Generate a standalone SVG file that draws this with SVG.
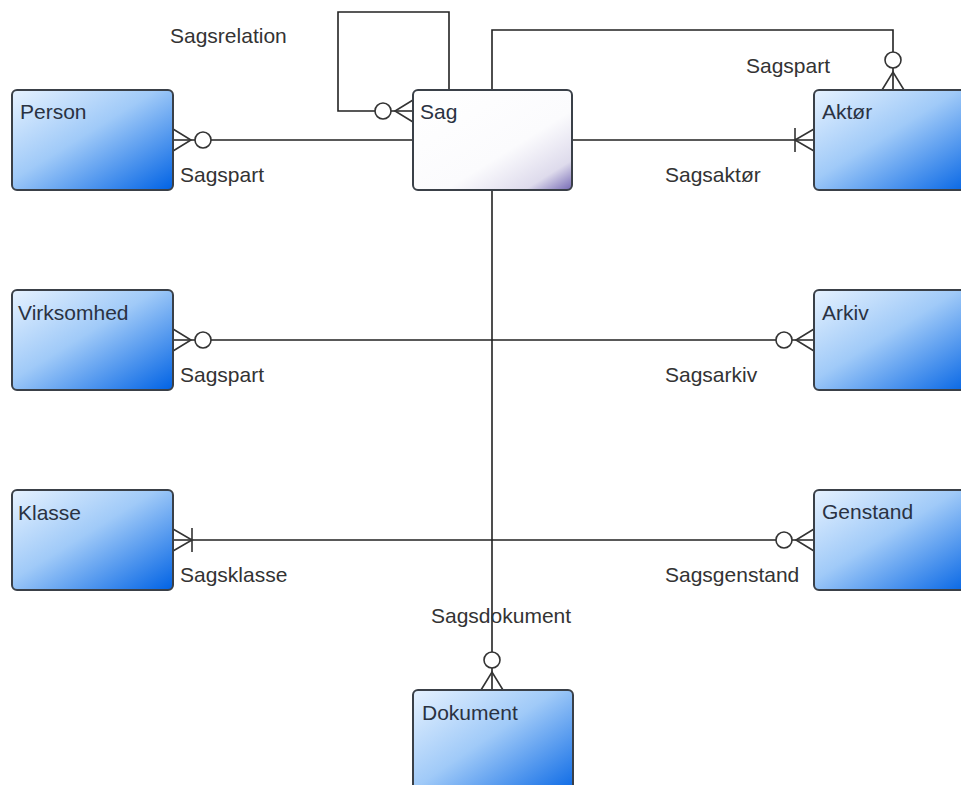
<svg xmlns="http://www.w3.org/2000/svg" xmlns:xlink="http://www.w3.org/1999/xlink" width="961" height="785" viewBox="0 0 961 785">
<style>
.ent{stroke:#3a4048;stroke-width:2}
.lbl{font-family:"Liberation Sans",Arial,sans-serif;font-size:21px;fill:#333}
.nm{font-family:"Liberation Sans",Arial,sans-serif;font-size:21px;fill:#2a3242}
.ln{fill:none;stroke:#222;stroke-width:1.6}
.nt{fill:none;stroke:#333;stroke-width:1.6}
.cir{fill:#fff;stroke:#333;stroke-width:1.6}
</style>
<defs>
<linearGradient id="blue" x1="0" y1="0" x2="1" y2="1">
<stop offset="0" stop-color="#e6f2ff"/>
<stop offset="0.45" stop-color="#a0caf8"/>
<stop offset="1" stop-color="#0062e4"/>
</linearGradient>
<linearGradient id="white" x1="0" y1="0" x2="1" y2="1">
<stop offset="0" stop-color="#ffffff"/>
<stop offset="0.6" stop-color="#fbfbfd"/>
<stop offset="0.85" stop-color="#dedbec"/>
<stop offset="1" stop-color="#7468b4"/>
</linearGradient>
<g id="zeroMany">
<path class="nt" d="M0,-11 L18,0 L0,11"/>
<circle class="cir" cx="30" cy="0" r="8"/>
</g>
<g id="oneMany">
<path class="nt" d="M0,-11 L19,0 L0,11 M19,-12 L19,12"/>
</g>
</defs>

<g id="connectors">
<path class="ln" d="M173,140 L413,140"/>
<path class="ln" d="M449,90 L449,12 L338,12 L338,111 L413,111"/>
<path class="ln" d="M492,90 L492,30 L893,30 L893,90"/>
<path class="ln" d="M572,140 L814,140"/>
<path class="ln" d="M492,190 L492,690"/>
<path class="ln" d="M173,340 L814,340"/>
<path class="ln" d="M173,540 L814,540"/>
<use xlink:href="#zeroMany" transform="translate(173,140)"/>
<use xlink:href="#zeroMany" transform="translate(413,111) scale(-1,1)"/>
<use xlink:href="#zeroMany" transform="translate(893,90) rotate(-90)"/>
<use xlink:href="#oneMany" transform="translate(814,140) scale(-1,1)"/>
<use xlink:href="#zeroMany" transform="translate(492,690) rotate(-90)"/>
<use xlink:href="#zeroMany" transform="translate(173,340)"/>
<use xlink:href="#zeroMany" transform="translate(814,340) scale(-1,1)"/>
<use xlink:href="#oneMany" transform="translate(173,540)"/>
<use xlink:href="#zeroMany" transform="translate(814,540) scale(-1,1)"/>
<text class="lbl" x="170" y="43">Sagsrelation</text>
<text class="lbl" x="180" y="182">Sagspart</text>
<text class="lbl" x="746" y="73">Sagspart</text>
<text class="lbl" x="665" y="182">Sagsaktør</text>
<text class="lbl" x="180" y="382">Sagspart</text>
<text class="lbl" x="665" y="382">Sagsarkiv</text>
<text class="lbl" x="180" y="582">Sagsklasse</text>
<text class="lbl" x="665" y="582">Sagsgenstand</text>
<text class="lbl" x="431" y="623">Sagsdokument</text>
</g>

<g id="person"><rect class="ent" x="12" y="90" width="161" height="100" rx="5" fill="url(#blue)"/><text class="nm" x="20" y="119">Person</text></g>
<g id="sag"><rect class="ent" x="413" y="90" width="159" height="100" rx="5" fill="url(#white)"/><text class="nm" x="420" y="119">Sag</text></g>
<g id="aktor"><rect class="ent" x="814" y="90" width="161" height="100" rx="5" fill="url(#blue)"/><text class="nm" x="822" y="119">Aktør</text></g>
<g id="virksomhed"><rect class="ent" x="12" y="290" width="161" height="100" rx="5" fill="url(#blue)"/><text class="nm" x="18" y="320">Virksomhed</text></g>
<g id="arkiv"><rect class="ent" x="814" y="290" width="161" height="100" rx="5" fill="url(#blue)"/><text class="nm" x="822" y="320">Arkiv</text></g>
<g id="klasse"><rect class="ent" x="12" y="490" width="161" height="100" rx="5" fill="url(#blue)"/><text class="nm" x="18" y="520">Klasse</text></g>
<g id="genstand"><rect class="ent" x="814" y="490" width="161" height="100" rx="5" fill="url(#blue)"/><text class="nm" x="822" y="519">Genstand</text></g>
<g id="dokument"><rect class="ent" x="413" y="690" width="160" height="110" rx="5" fill="url(#blue)"/><text class="nm" x="422" y="720">Dokument</text></g>
</svg>
